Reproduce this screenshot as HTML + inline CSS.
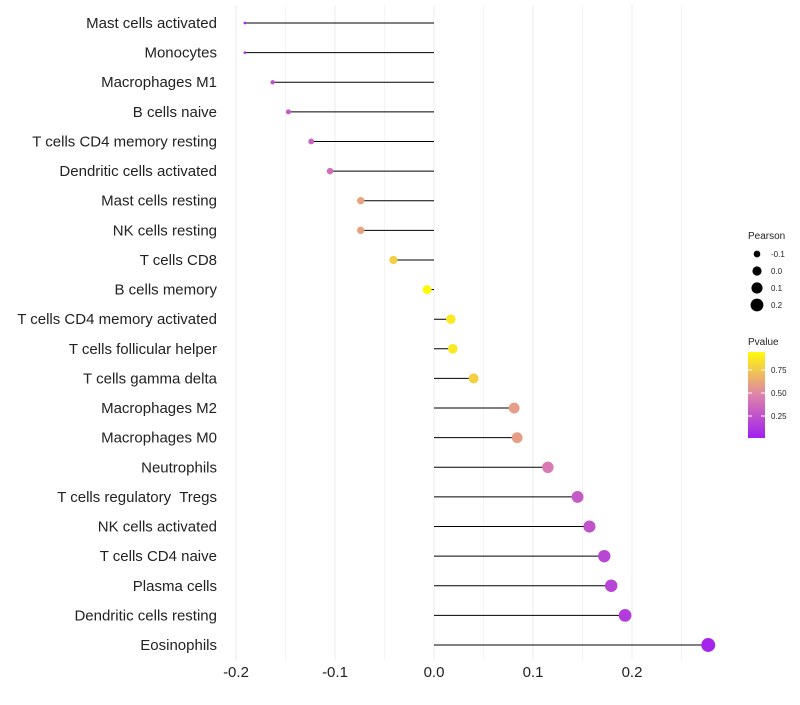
<!DOCTYPE html>
<html><head><meta charset="utf-8"><style>
body{margin:0;background:#fff;font-family:"Liberation Sans",sans-serif;}
text{white-space:pre;}
</style></head><body>
<svg id="c" width="800" height="700" xmlns="http://www.w3.org/2000/svg" font-family="Liberation Sans, sans-serif"></svg>
<script>
const categories=["Mast cells activated","Monocytes","Macrophages M1","B cells naive","T cells CD4 memory resting","Dendritic cells activated","Mast cells resting","NK cells resting","T cells CD8","B cells memory","T cells CD4 memory activated","T cells follicular helper","T cells gamma delta","Macrophages M2","Macrophages M0","Neutrophils","T cells regulatory  Tregs","NK cells activated","T cells CD4 naive","Plasma cells","Dendritic cells resting","Eosinophils"];
const pearson=[-0.191,-0.191,-0.163,-0.147,-0.124,-0.105,-0.074,-0.074,-0.041,-0.007,0.017,0.019,0.040,0.081,0.084,0.115,0.145,0.157,0.172,0.179,0.193,0.277];
const pvalues=[0.08,0.1,0.25,0.3,0.35,0.4,0.62,0.62,0.8,0.97,0.9,0.9,0.8,0.6,0.6,0.45,0.3,0.27,0.2,0.2,0.15,0.05];
const xTicks=[-0.2,-0.1,0.0,0.1,0.2];
const xTickLabels=["-0.2","-0.1","0.0","0.1","0.2"];
const svg=document.getElementById('c');const NS="http://www.w3.org/2000/svg";
function mk(t,a,p){const e=document.createElementNS(NS,t);for(const k in a)e.setAttribute(k,a[k]);(p||svg).appendChild(e);return e;}
const x=v=>434+v*990;
const y=i=>23+i*(622/21);
const rad=v=>Math.sqrt(2+(v+0.19)/0.47*47);
function col(p){const t=Math.max(0,Math.min(1,(p-0.02)/0.95));
 const s=[[160,32,240],[222,130,170],[255,250,10]];
 let a,b,u;if(t<0.5){a=s[0];b=s[1];u=t/0.5}else{a=s[1];b=s[2];u=(t-0.5)/0.5}
 return `rgb(${a.map((c,i)=>Math.round(c+(b[i]-c)*u)).join(',')})`;}
// grid
for(let k=-4;k<=5;k++){const v=k*0.05;const l=mk('line',{x1:x(v),x2:x(v),y1:5,y2:660,stroke:k%2===0?'#ebebeb':'#f4f4f4','stroke-width':1});
}
xTicks.forEach((v,i)=>{const t=mk('text',{x:x(v),y:677,'text-anchor':'middle','font-size':15,fill:'#222'});t.textContent=xTickLabels[i];
});
categories.forEach((c,i)=>{
 const t=mk('text',{x:217,y:y(i)+5,'text-anchor':'end','font-size':15,fill:'#222'});t.textContent=c;
 
 const l=mk('line',{x1:x(0),x2:x(pearson[i]),y1:y(i),y2:y(i),stroke:'#000','stroke-width':1});
 
 const d=mk('circle',{cx:x(pearson[i]),cy:y(i),r:rad(pearson[i]),fill:col(pvalues[i])});
 
});
// legend
let g=mk('g',{});
mk('text',{x:748,y:239,'font-size':10,fill:'#222'},g).textContent='Pearson';
[-0.1,0.0,0.1,0.2].forEach((v,i)=>{const cy=254+i*17;mk('circle',{cx:757,cy:cy,r:rad(v),fill:'#000'},g);
 mk('text',{x:771,y:cy+3,'font-size':8,fill:'#222'},g).textContent=v.toFixed(1);});
let g2=mk('g',{});
mk('text',{x:748,y:345,'font-size':10,fill:'#222'},g2).textContent='Pvalue';
const df=mk('defs',{});const lg=mk('linearGradient',{id:'pg',x1:0,y1:1,x2:0,y2:0},df);
[0,0.25,0.5,0.75,1].forEach(o=>mk('stop',{offset:o,'stop-color':col(0.02+o*0.95)},lg));
mk('rect',{x:748,y:352,width:17,height:86,fill:'url(#pg)'},g2);
[[0.75,370],[0.5,393],[0.25,416]].forEach(([v,yy])=>{mk('line',{x1:748,x2:752,y1:yy,y2:yy,stroke:'#fff'},g2);mk('line',{x1:761,x2:765,y1:yy,y2:yy,stroke:'#fff'},g2);
 mk('text',{x:771,y:yy+3,'font-size':8,fill:'#222'},g2).textContent=v.toFixed(2);});
</script>
</body></html>
